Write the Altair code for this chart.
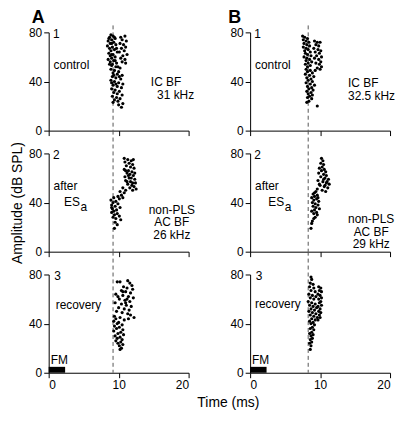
import altair as alt
import pandas as pd

# ---------------- data (time in ms, amplitude in dB SPL) ----------------
a1_t = [8.9, 9.2, 8.7, 9.5, 9.0, 8.5, 9.3, 8.8, 9.6, 8.4, 9.1, 8.7, 9.4, 8.9, 9.8, 8.6, 9.2, 8.8, 9.5, 9.0,
        8.5, 9.3, 8.8, 9.7, 9.1, 9.4, 8.6, 9.0, 9.7, 9.0, 8.7, 9.5, 9.9,
        10.3, 10.9, 10.5, 11.1, 10.2, 10.7, 11.0, 10.4, 10.8, 10.1, 11.2, 10.6, 10.3, 10.9, 10.5, 11.0,
        9.0, 9.6, 10.2, 8.9, 9.4, 10.0, 9.2, 9.8, 10.5, 9.1, 9.6, 10.3, 8.9, 9.4, 10.0, 10.6, 9.2, 9.8,
        10.4, 9.0, 9.3, 10.1, 9.6, 9.0,
        9.5, 10.1, 9.3, 9.8, 10.5, 9.1, 9.7, 10.2, 9.4, 9.9, 9.2, 10.6, 10.0, 10.4]
a1_a = [78, 77, 76, 75, 74, 73, 72, 71, 70, 69, 68, 67, 66, 65, 64, 63, 62, 61, 60, 59,
        58, 57, 56, 55, 54, 76, 75, 71, 67, 62, 54, 57, 52,
        76, 77, 74, 73, 71, 70, 68, 67, 65, 64, 62, 61, 59, 58, 56, 55,
        53, 52, 51, 50, 49, 48, 47, 46, 45, 44, 43, 42, 41, 40, 39, 38, 37, 36,
        35, 34, 45, 44, 38, 39,
        33, 32, 31, 30, 29, 28, 27, 26, 25, 24, 23, 22, 21, 19]

a2_t = [10.8, 11.3, 11.8, 12.1, 10.9, 11.5, 12.0, 11.1, 11.7, 12.2, 10.8, 11.4, 11.9, 11.2, 11.6, 12.1,
        10.9, 11.5, 12.3, 11.0, 11.7, 12.4, 11.3, 11.9, 12.2, 11.6, 12.5, 12.0, 11.4, 11.0, 12.3, 11.8,
        11.2, 12.0,
        10.6, 11.0, 10.2, 10.8, 10.4, 9.9, 10.6, 10.1,
        9.3, 8.9, 9.6, 9.2, 9.9, 9.0, 9.5, 10.2, 9.1, 9.7, 9.3, 9.0, 9.8, 9.4, 10.1, 9.2, 9.6, 10.3,
        9.5, 9.8, 9.4, 9.0]
a2_a = [76, 75, 74, 75, 73, 72, 71, 70, 69, 68, 67, 66, 65, 64, 63, 62,
        61, 60, 59, 58, 57, 56, 55, 54, 53, 52, 51, 50, 62, 66, 64, 60,
        57, 56,
        52, 50, 49, 48, 46, 45, 44, 43,
        44, 42, 41, 40, 39, 38, 37, 36, 35, 34, 33, 32, 31, 30, 29, 28, 27, 26,
        24, 22, 19, 36]

a3_t = [9.8, 10.2, 11.3, 11.6, 11.9, 10.7, 11.2, 12.0, 10.4, 11.0, 11.7, 9.6, 10.6, 11.4, 12.1, 10.1,
        10.9, 11.6, 9.5, 10.4, 11.1, 11.8, 10.0, 10.8, 11.5, 9.7, 10.5, 11.3, 12.2, 11.7, 9.4, 10.2,
        9.6, 10.8, 9.3, 10.0, 9.8, 10.5, 9.4, 10.1, 9.7, 10.6, 9.3, 10.3, 9.9, 10.7, 9.5, 10.2,
        9.8, 10.5, 9.6, 10.3, 9.9, 10.6, 10.1, 10.4, 10.2, 11.0, 11.4, 9.9, 11.2, 10.6]
a3_a = [74, 74, 75, 73, 71, 70, 69, 68, 67, 66, 65, 64, 63, 62, 61, 60,
        59, 58, 57, 56, 55, 54, 53, 52, 51, 50, 49, 48, 45, 47, 46, 45,
        44, 43, 42, 41, 40, 39, 38, 37, 36, 35, 34, 33, 32, 31, 30, 29,
        28, 27, 26, 25, 24, 23, 22, 20, 19, 57, 44, 62, 60, 66]

b1_t = [7.5, 7.8, 8.2, 7.6, 8.0, 8.4, 7.7, 8.1, 8.5, 7.6, 8.0, 8.3, 7.8, 8.6, 7.9, 8.2, 8.7, 7.7,
        8.1, 8.5, 8.0, 8.8, 8.3, 7.9, 8.6, 8.2,
        9.2, 9.6, 10.0, 9.4, 9.8, 9.1, 9.7, 10.1, 9.3, 9.9, 9.5, 10.2, 9.2, 9.8, 10.1, 9.4, 9.9, 10.2,
        9.6, 10.0, 9.3,
        8.0, 8.6, 8.2, 8.9, 7.9, 8.5, 9.1, 8.1, 8.7, 8.3, 8.9, 8.0, 8.6, 9.2, 8.2, 8.8, 8.4, 9.0,
        8.1, 8.7, 8.3, 8.9, 8.5, 8.2, 8.8, 8.4, 8.1, 9.6]
b1_a = [77, 76, 75, 74, 73, 72, 71, 70, 69, 68, 67, 66, 65, 64, 63, 62, 61, 60,
        59, 58, 57, 56, 55, 54, 53, 52,
        73, 72, 72, 70, 69, 67, 66, 65, 64, 63, 61, 60, 59, 58, 56, 55, 54, 52,
        51, 50, 49,
        50, 49, 48, 47, 46, 45, 44, 43, 42, 41, 40, 39, 38, 37, 36, 35, 34, 33,
        32, 31, 30, 29, 28, 27, 26, 24, 23, 20]

b2_t = [10.2, 10.4, 10.1, 10.5, 10.3, 9.9, 10.6, 10.2, 10.8, 9.8, 10.5, 10.9, 10.1, 10.7, 11.2, 9.7,
        10.4, 10.9, 11.3, 10.0, 10.6, 11.1, 9.6, 10.3, 10.8, 11.0, 10.5, 9.9, 10.7,
        9.4, 9.0, 9.6, 9.2, 8.8, 9.5, 9.1, 9.8, 8.9, 9.3, 9.7, 9.0, 9.4, 9.9, 9.2, 8.8, 9.5, 9.1,
        9.6, 9.3, 9.1, 8.9, 8.8, 8.7, 9.7, 9.2]
b2_a = [76, 74, 72, 71, 69, 68, 67, 66, 65, 64, 63, 62, 61, 60, 59, 58,
        57, 56, 55, 54, 53, 52, 51, 50, 49, 57, 59, 55, 54,
        49, 47, 46, 45, 44, 43, 42, 41, 40, 39, 38, 37, 36, 35, 34, 33, 32, 31,
        30, 28, 27, 25, 23, 19, 44, 48]

b3_t = [8.7, 8.8, 8.6, 9.0, 8.5, 9.1, 8.7, 9.3, 8.4, 8.9, 9.4, 8.6, 9.1, 8.3, 8.8, 9.3, 8.5, 9.0,
        9.5, 8.7, 9.2, 8.4, 8.9, 9.4, 8.6, 9.1, 9.6, 8.8, 9.3, 8.5, 9.0, 8.7, 9.2, 8.9, 8.6, 9.1,
        8.8, 8.5, 9.0, 8.7, 8.9, 8.6, 8.8, 8.5, 8.7, 8.6,
        9.8, 10.1, 9.9, 10.2, 9.7, 10.0, 10.2, 9.8, 10.1, 9.9, 10.2, 9.7, 10.0, 9.8, 10.1, 9.9,
        10.0, 9.7]
b3_a = [78, 76, 73, 72, 70, 69, 67, 66, 64, 63, 62, 61, 60, 58, 57, 56, 55, 54,
        53, 52, 51, 50, 49, 48, 47, 46, 45, 44, 43, 42, 41, 40, 39, 37, 36, 35,
        33, 32, 31, 30, 28, 27, 25, 24, 22, 19,
        70, 69, 67, 66, 64, 63, 61, 60, 58, 57, 55, 54, 52, 50, 49, 47,
        45, 43]

latency_a = 9.2   # dashed reference line, column A (ms)
latency_b = 8.3   # dashed reference line, column B (ms)
fm_end = 2.35     # FM stimulus duration (ms)

FONT = "Liberation Sans"
W, H = 141, 99
ONE = alt.Data(values=[{}])


def text_layer(txt, x, y, align="left", size=12, weight="normal"):
    return alt.Chart(ONE).mark_text(
        text=txt, align=align, baseline="alphabetic", fontSize=size,
        fontWeight=weight, font=FONT, color="black"
    ).encode(x=x, y=y)


def panel(ts, amps, rule_x, row, extras, ytitle=None):
    df = pd.DataFrame({"t": ts, "a": amps})
    if row == 3:
        xaxis = alt.Axis(values=[0, 5, 10, 15, 20], title=None,
                         labelExpr="datum.value % 10 == 0 ? datum.label : ''")
    else:
        xaxis = alt.Axis(values=[0, 5, 10, 15, 20], title=None, labels=False)
    yaxis_kw = dict(values=[0, 20, 40, 60, 80],
                    labelExpr="datum.value % 40 == 0 ? datum.label : ''")
    if ytitle:
        yaxis = alt.Axis(title=ytitle, titleFontSize=14, titleFont=FONT,
                         titleFontWeight="normal", titleColor="black",
                         titlePadding=4, **yaxis_kw)
    else:
        yaxis = alt.Axis(title=None, **yaxis_kw)
    pts = alt.Chart(df).mark_circle(size=10, color="black", opacity=1).encode(
        x=alt.X("t:Q", scale=alt.Scale(domain=[0, 20], nice=False, zero=False), axis=xaxis),
        y=alt.Y("a:Q", scale=alt.Scale(domain=[0, 80], nice=False), axis=yaxis),
    )
    top = -7 if row == 1 else -23
    rule = alt.Chart(ONE).mark_rule(color="#555555", strokeDash=[4, 3], strokeWidth=1).encode(
        x=alt.datum(rule_x), y=alt.value(top), y2=alt.value(H)
    )
    layers = [rule, pts] + extras
    return alt.layer(*layers).properties(width=W, height=H)


def fm_layers(xlab):
    bar = alt.Chart(ONE).mark_rect(color="black").encode(
        x=alt.datum(0), x2=alt.datum(fm_end), y=alt.datum(0), y2=alt.datum(4.8)
    )
    return [bar, text_layer("FM", alt.datum(xlab), alt.datum(7.2))]


A1 = panel(a1_t, a1_a, latency_a, 1, [
    text_layer("A", alt.value(-17), alt.value(-9), size=18, weight="bold"),
    text_layer("1", alt.datum(0.6), alt.datum(75.5)),
    text_layer("control", alt.datum(0.7), alt.datum(50)),
    text_layer("IC BF", alt.datum(14.6), alt.datum(36)),
    text_layer("31 kHz", alt.datum(15.5), alt.datum(26)),
])
B1 = panel(b1_t, b1_a, latency_b, 1, [
    text_layer("B", alt.value(-22), alt.value(-9), size=18, weight="bold"),
    text_layer("1", alt.datum(0.6), alt.datum(75.5)),
    text_layer("control", alt.datum(0.7), alt.datum(50)),
    text_layer("IC BF", alt.datum(14.0), alt.datum(35.5)),
    text_layer("32.5 kHz", alt.datum(14.0), alt.datum(25)),
])
A2 = panel(a2_t, a2_a, latency_a, 2, [
    text_layer("2", alt.datum(0.6), alt.datum(75.5)),
    text_layer("after", alt.datum(0.7), alt.datum(50.5)),
    text_layer("ES", alt.datum(2.2), alt.datum(37)),
    text_layer("a", alt.datum(4.55), alt.datum(33)),
    text_layer("non-PLS", alt.datum(17.6), alt.datum(31.0), align="center"),
    text_layer("AC BF", alt.datum(17.6), alt.datum(20.8), align="center"),
    text_layer("26 kHz", alt.datum(17.6), alt.datum(10.6), align="center"),
], ytitle="Amplitude (dB SPL)")
B2 = panel(b2_t, b2_a, latency_b, 2, [
    text_layer("2", alt.datum(0.6), alt.datum(75.5)),
    text_layer("after", alt.datum(0.7), alt.datum(50.5)),
    text_layer("ES", alt.datum(2.6), alt.datum(37)),
    text_layer("a", alt.datum(4.95), alt.datum(33)),
    text_layer("non-PLS", alt.datum(17.3), alt.datum(23.2), align="center"),
    text_layer("AC BF", alt.datum(17.3), alt.datum(13.0), align="center"),
    text_layer("29 kHz", alt.datum(17.3), alt.datum(2.8), align="center"),
])
A3 = panel(a3_t, a3_a, latency_a, 3, [
    text_layer("3", alt.datum(0.8), alt.datum(75.5)),
    text_layer("recovery", alt.datum(1.0), alt.datum(51.5)),
] + fm_layers(0.3))
B3 = panel(b3_t, b3_a, latency_b, 3, [
    text_layer("3", alt.datum(0.8), alt.datum(75.5)),
    text_layer("recovery", alt.datum(0.7), alt.datum(52.5)),
    text_layer("Time (ms)", alt.value(-22), alt.value(H + 35), align="center", size=14),
] + fm_layers(0.25))

chart = alt.concat(
    A1, B1, A2, B2, A3, B3, columns=2,
    spacing={"row": 23, "column": 62}, bounds="flush"
).properties(
    padding={"left": 2, "top": 0, "right": 0, "bottom": 0},
    background="white",
).configure_view(stroke=None).configure_axis(
    domainColor="black", tickColor="black", labelColor="black",
    labelFont=FONT, labelFontSize=12, tickSize=5, labelPadding=2,
    grid=False, domainWidth=1, tickWidth=1
)

chart.save("out.html", embed_options={"renderer": "svg", "actions": False})
